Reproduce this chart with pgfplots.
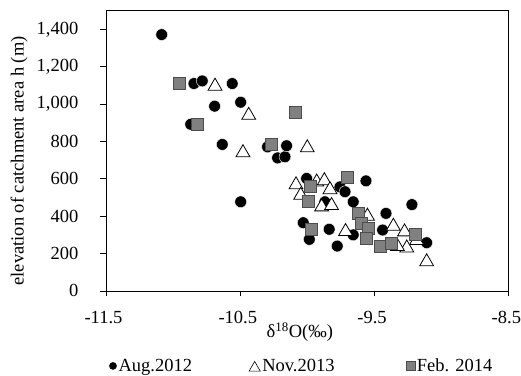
\documentclass[border=0pt]{standalone}
\usepackage{fontspec}
\setmainfont{Liberation Serif}
\usepackage{pgfplots}
\pgfplotsset{compat=1.18}
\newcommand{\chf}{\fontsize{18.5}{22}\selectfont}
\begin{document}
\begin{tikzpicture}
\begin{axis}[
  name=ax,
  scale only axis, width=403pt, height=280.3pt,
  xmin=-11.5, xmax=-8.5, ymin=0, ymax=1500,
  xtick={-11.5,-10.5,-9.5,-8.5},
  ytick={0,200,400,600,800,1000,1200,1400},
  tick align=outside, tick pos=left, major tick length=5.5pt,
  axis line style={line width=0.8pt}, every tick/.style={black, line width=0.8pt},
  /pgf/number format/assume math mode=true,
  xticklabel style={font=\chf, anchor=center, inner sep=0pt, yshift=-21pt, xshift=-2.5pt,
     /pgf/number format/fixed, /pgf/number format/precision=1, /pgf/number format/fixed zerofill},
  yticklabel style={font=\chf, anchor=east, inner sep=0pt, xshift=-22pt, /pgf/number format/1000 sep={,}},
  xlabel={δ\textsuperscript{18}O(‰)},
  xlabel style={font=\chf, at={(rel axis cs:0.481,-0.146)}, anchor=center, inner sep=0pt},
  ylabel={elevation of catchment area h (m)},
  ylabel style={font=\chf, at={(rel axis cs:-0.2159,0.4638)}, anchor=center, inner sep=0pt},
  legend columns=3,
  legend style={draw=none, fill=none, font=\chf, inner sep=0pt, at={(rel axis cs:0.008,-0.2676)}, anchor=west,
     /tikz/every odd column/.append style={column sep=0pt}},
]
\addplot[only marks, mark=*, mark size=5.9pt, mark options={fill=black, draw=white, line width=0.4pt},
  legend image code/.code={\draw[mark=*, mark size=3.6pt, mark options={fill=black, draw=black}] plot coordinates {(0pt,0pt)};}]
coordinates {
(-11.085,1372) (-10.869,892) (-10.845,1110) (-10.783,1124) (-10.691,989)
(-10.634,784) (-10.560,1110) (-10.497,1010) (-10.497,477) (-10.297,771)
(-10.222,712) (-10.167,718) (-10.155,777) (-10.031,365) (-10.006,602)
(-9.986,276) (-9.870,477) (-9.838,330) (-9.778,240) (-9.758,557)
(-9.720,531) (-9.659,477) (-9.659,300) (-9.564,589) (-9.440,326)
(-9.415,415) (-9.222,462) (-9.112,258)
};
\addlegendentry{Aug.2012\hspace*{55pt}}
\addplot[only marks, mark=triangle*, mark size=8pt, mark options={fill=white, draw=black, line width=0.8pt},
  legend image code/.code={\draw[mark=triangle*, mark size=6.5pt, mark options={fill=white, draw=black, line width=0.6pt}] plot coordinates {(0pt,-2pt)};}]
coordinates {
(-10.688,1096) (-10.437,940) (-10.480,740) (-10.001,766) (-10.085,568)
(-10.050,512) (-9.931,583) (-9.874,590) (-9.832,542) (-9.894,450)
(-9.820,457) (-9.716,318) (-9.553,400) (-9.360,346) (-9.277,316)
(-9.260,230) (-9.330,238) (-9.187,270) (-9.112,156)
};
\addlegendentry{Nov.2013\hspace*{70pt}}
\addplot[only marks, mark=square*, mark size=6pt, mark options={fill=black!50, draw=black!70, line width=0.8pt},
  legend image code/.code={\draw[mark=square*, mark size=4.2pt, mark options={fill=black!50, draw=black!70, line width=0.6pt}] plot coordinates {(0pt,0pt)};}]
coordinates {
(-10.954,1110) (-10.817,892) (-10.266,784) (-10.090,953) (-9.981,557)
(-9.994,477) (-9.968,331) (-9.703,606) (-9.624,415) (-9.596,362)
(-9.547,335) (-9.559,282) (-9.460,240) (-9.378,255) (-9.198,304)
};
\addlegendentry{Feb. 2014}
\end{axis}
\path ([xshift=-106pt,yshift=-81pt]ax.south west) rectangle ++(521pt,372pt);
\end{tikzpicture}
\end{document}
